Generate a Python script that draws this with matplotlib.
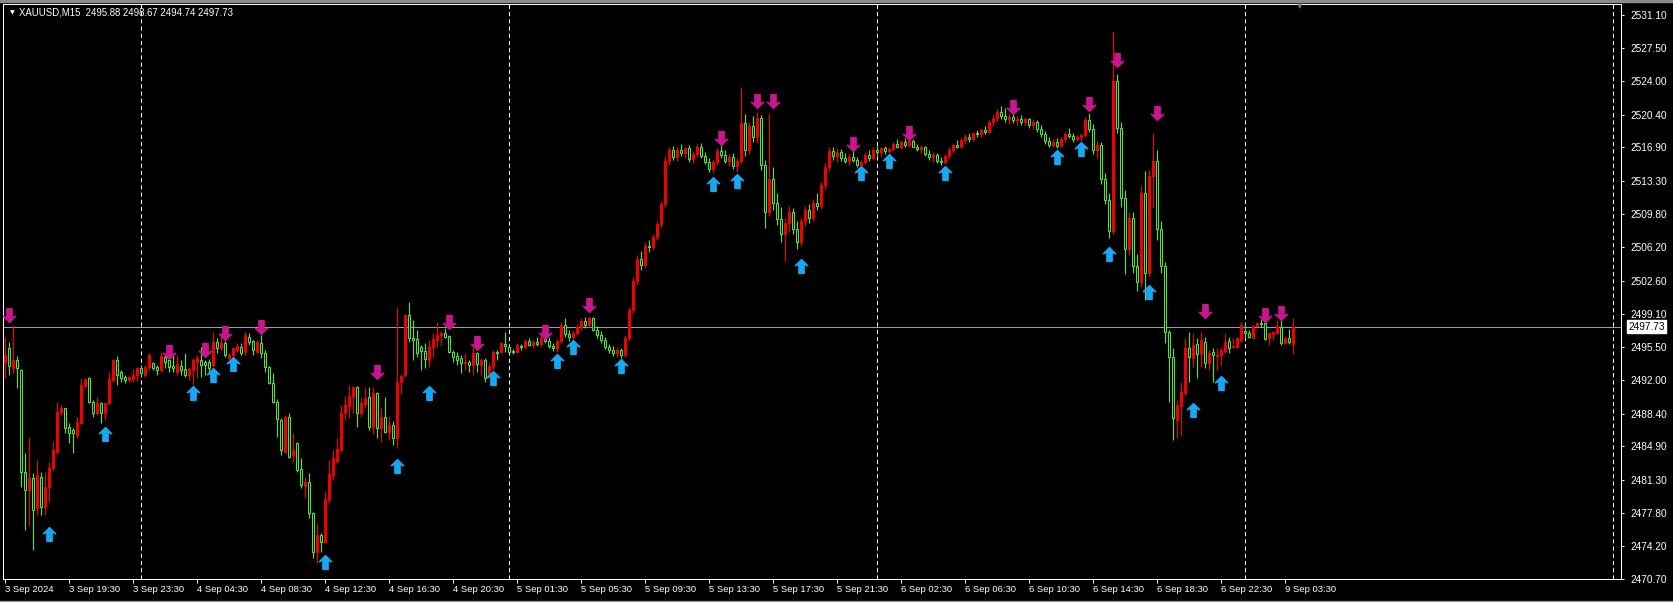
#!/usr/bin/env python3
"""XAUUSD M15 candles (MT4 style) with signal arrows -> out.png"""
import matplotlib
matplotlib.use("Agg")
import matplotlib.pyplot as plt
import numpy as np
from matplotlib.path import Path
from matplotlib.transforms import blended_transform_factory

plt.rcParams["lines.scale_dashes"] = False

# ---------------------------------------------------------------------------
# data (bar 0 = 3 Sep 15:30)
# ---------------------------------------------------------------------------
opens = [
    2493.90, 2495.39, 2493.25, 2494.15, 2493.07, 2482.19, 2480.23, 2481.48, 2478.27, 2481.65,
    2478.44, 2480.58, 2482.55, 2484.33, 2488.61, 2488.97, 2487.00, 2486.65, 2486.12, 2487.36,
    2491.36, 2492.18, 2489.68, 2488.43, 2489.58, 2488.43, 2489.51, 2492.01, 2494.15, 2492.90,
    2492.29, 2492.00, 2492.08, 2492.54, 2493.25, 2492.54, 2493.36, 2493.79, 2493.43, 2493.07,
    2494.50, 2494.15, 2493.50, 2492.90, 2493.50, 2493.15, 2492.54, 2493.07, 2493.97, 2494.15,
    2493.97, 2493.97, 2493.61, 2496.11, 2495.39, 2495.93, 2494.32, 2494.68, 2495.22, 2495.57,
    2495.04, 2496.64, 2496.22, 2495.04, 2495.93, 2494.93, 2493.36, 2491.72, 2489.68, 2487.72,
    2484.33, 2488.00, 2483.97, 2485.22, 2482.44, 2480.65, 2481.12, 2477.73, 2473.62, 2475.41,
    2474.70, 2479.16, 2481.83, 2483.37, 2484.51, 2488.43, 2489.22, 2490.22, 2491.22, 2488.43,
    2489.43, 2490.15, 2487.01, 2490.58, 2486.83, 2488.01, 2486.47, 2487.20, 2485.80, 2491.80,
    2492.50, 2498.96, 2496.50, 2496.36, 2495.50, 2495.10, 2494.15, 2495.57, 2496.29, 2496.82,
    2497.07, 2496.71, 2495.04, 2494.57, 2494.32, 2493.79, 2493.97, 2493.61, 2494.93, 2493.61,
    2494.15, 2492.54, 2493.50, 2495.04, 2495.04, 2495.86, 2495.50, 2495.10, 2495.04, 2495.64,
    2495.57, 2496.20, 2495.80, 2496.10, 2495.90, 2496.50, 2496.20, 2495.60, 2495.40, 2496.20,
    2497.90, 2496.90, 2496.60, 2497.00, 2497.70, 2498.30, 2497.90, 2498.60, 2497.40, 2496.80,
    2496.30, 2495.50, 2495.20, 2494.90, 2495.20, 2494.70, 2496.50, 2499.50, 2502.60, 2505.00,
    2504.30, 2506.40, 2506.20, 2507.30, 2508.70, 2510.80, 2515.50, 2516.60, 2515.90, 2516.60,
    2516.30, 2516.80, 2515.70, 2516.20, 2517.00, 2516.00, 2515.40, 2514.60, 2515.30, 2516.50,
    2516.10, 2515.50, 2515.90, 2514.90, 2515.50, 2519.50, 2516.60, 2519.20, 2518.00, 2520.10,
    2515.00, 2510.00, 2513.50, 2511.00, 2509.20, 2507.60, 2508.80, 2510.00, 2508.20, 2506.80,
    2509.00, 2510.20, 2509.30, 2511.00, 2510.60, 2512.90, 2514.80, 2516.50, 2516.00, 2516.40,
    2515.80, 2515.50, 2515.90, 2515.60, 2515.00, 2515.30, 2516.10, 2515.80, 2516.60, 2516.40,
    2516.80, 2516.50, 2516.70, 2517.30, 2517.00, 2517.50, 2517.20, 2517.60, 2517.00, 2516.70,
    2516.90, 2516.20, 2515.90, 2516.10, 2515.50, 2515.30, 2516.00, 2516.60, 2517.20, 2517.00,
    2517.70, 2518.00, 2517.80, 2518.40, 2518.30, 2518.80, 2518.60, 2519.60, 2520.10, 2520.70,
    2520.30, 2519.90, 2520.20, 2519.80, 2520.00, 2519.60, 2519.90, 2519.30, 2519.60, 2518.90,
    2518.30, 2517.60, 2517.20, 2517.50, 2517.10, 2517.80, 2518.30, 2518.10, 2517.80, 2518.00,
    2518.20, 2519.80, 2518.90, 2516.60, 2517.20, 2513.50, 2511.30, 2508.00, 2524.00, 2519.00,
    2511.50, 2506.00, 2509.40, 2504.20, 2502.50, 2512.00, 2503.50, 2513.80, 2515.50, 2508.20,
    2504.20, 2497.18, 2494.50, 2487.72, 2489.22, 2490.58, 2495.39, 2494.32, 2495.86, 2494.79,
    2496.11, 2493.79, 2495.04, 2494.57, 2494.68, 2495.14, 2496.18, 2495.50, 2495.57, 2496.29,
    2497.29, 2497.07, 2496.47, 2497.79, 2498.07, 2498.07, 2496.47, 2496.93, 2497.07, 2497.72,
    2496.00, 2496.47, 2495.88,
]
highs = [
    2496.64, 2496.11, 2497.89, 2494.57, 2493.15, 2484.15, 2485.94, 2482.01, 2483.44, 2482.19,
    2482.19, 2483.26, 2485.40, 2489.68, 2489.33, 2489.00, 2487.36, 2486.83, 2488.08, 2492.18,
    2492.25, 2492.36, 2489.86, 2490.22, 2489.68, 2489.58, 2492.90, 2494.22, 2494.57, 2493.07,
    2492.54, 2492.43, 2493.15, 2493.40, 2493.61, 2493.61, 2494.86, 2493.97, 2493.61, 2495.04,
    2494.68, 2494.50, 2494.68, 2494.68, 2494.15, 2494.86, 2493.43, 2494.32, 2494.68, 2495.57,
    2494.15, 2494.30, 2497.18, 2496.47, 2497.00, 2496.29, 2494.90, 2495.57, 2495.93, 2495.93,
    2497.18, 2497.00, 2496.29, 2496.29, 2496.82, 2495.22, 2493.50, 2492.72, 2489.93, 2487.90,
    2488.26, 2488.43, 2486.37, 2485.40, 2483.62, 2481.65, 2482.08, 2477.91, 2476.66, 2475.66,
    2480.05, 2483.44, 2484.51, 2485.76, 2489.33, 2490.29, 2491.47, 2491.29, 2491.36, 2490.22,
    2491.29, 2491.29, 2491.29, 2490.76, 2489.15, 2490.22, 2488.20, 2487.60, 2499.80, 2492.60,
    2499.00, 2500.39, 2498.40, 2497.36, 2495.75, 2495.93, 2496.29, 2497.00, 2498.18, 2497.29,
    2497.54, 2496.82, 2495.22, 2495.04, 2494.68, 2494.86, 2494.15, 2495.57, 2495.04, 2494.32,
    2494.32, 2493.79, 2495.22, 2495.22, 2496.11, 2497.18, 2495.75, 2495.30, 2495.93, 2495.90,
    2496.40, 2496.50, 2496.30, 2496.60, 2496.80, 2497.20, 2496.60, 2496.00, 2496.40, 2498.20,
    2498.60, 2497.40, 2497.30, 2498.00, 2498.60, 2498.80, 2498.90, 2498.80, 2497.80, 2497.20,
    2496.60, 2495.90, 2495.60, 2495.50, 2495.40, 2496.80, 2499.80, 2503.00, 2505.40, 2505.80,
    2506.80, 2507.00, 2507.60, 2509.00, 2511.20, 2516.00, 2517.00, 2517.10, 2516.90, 2517.30,
    2517.00, 2517.20, 2516.50, 2517.30, 2517.40, 2516.40, 2515.80, 2515.60, 2516.80, 2517.30,
    2516.60, 2516.20, 2516.30, 2515.80, 2523.40, 2520.50, 2519.60, 2520.30, 2520.70, 2520.40,
    2515.60, 2520.60, 2514.80, 2512.00, 2510.50, 2509.40, 2510.60, 2510.40, 2509.00, 2509.40,
    2510.60, 2510.80, 2511.40, 2512.00, 2513.20, 2515.20, 2516.90, 2517.00, 2516.80, 2516.70,
    2516.30, 2516.20, 2516.60, 2515.90, 2515.60, 2516.40, 2516.60, 2516.90, 2517.20, 2517.00,
    2517.10, 2516.90, 2517.50, 2517.80, 2517.70, 2517.90, 2517.80, 2517.80, 2517.30, 2517.20,
    2517.10, 2516.60, 2516.40, 2516.30, 2515.90, 2516.20, 2516.90, 2517.40, 2517.70, 2517.90,
    2518.30, 2518.40, 2518.60, 2518.80, 2519.00, 2519.20, 2519.80, 2520.40, 2521.00, 2521.30,
    2521.10, 2520.50, 2520.60, 2520.30, 2520.40, 2520.20, 2520.10, 2519.90, 2519.80, 2519.30,
    2518.70, 2518.00, 2517.80, 2517.90, 2518.00, 2518.60, 2519.00, 2518.50, 2518.20, 2518.40,
    2520.20, 2520.60, 2519.40, 2517.60, 2517.50, 2514.20, 2512.00, 2529.40, 2524.80, 2519.60,
    2512.40, 2510.00, 2510.00, 2505.50, 2512.80, 2514.40, 2514.50, 2518.40, 2516.60, 2509.00,
    2504.60, 2497.35, 2495.40, 2489.86, 2491.82, 2496.47, 2497.18, 2497.00, 2496.47, 2497.18,
    2496.64, 2495.22, 2495.39, 2495.39, 2495.57, 2497.00, 2496.57, 2496.47, 2496.64, 2498.25,
    2498.25, 2497.36, 2497.89, 2498.25, 2498.50, 2498.25, 2497.18, 2497.29, 2498.43, 2498.43,
    2496.64, 2497.43, 2498.67,
]
lows = [
    2492.18, 2492.54, 2492.72, 2491.11, 2480.58, 2475.94, 2476.48, 2473.80, 2477.55, 2477.55,
    2477.55, 2478.98, 2482.37, 2484.15, 2488.26, 2486.29, 2485.22, 2484.22, 2485.76, 2487.36,
    2491.29, 2489.51, 2488.08, 2488.26, 2487.36, 2487.72, 2489.33, 2491.83, 2491.47, 2491.83,
    2491.65, 2491.83, 2491.83, 2491.90, 2492.36, 2492.36, 2493.07, 2493.07, 2492.54, 2492.90,
    2493.25, 2492.90, 2492.90, 2492.54, 2492.54, 2492.36, 2492.00, 2491.47, 2492.18, 2492.36,
    2492.54, 2492.90, 2493.43, 2494.86, 2495.22, 2494.50, 2493.90, 2494.50, 2495.04, 2494.68,
    2494.68, 2495.75, 2494.68, 2494.86, 2494.32, 2492.90, 2491.58, 2489.51, 2485.94, 2483.97,
    2484.15, 2483.62, 2483.26, 2482.19, 2480.40, 2479.33, 2477.19, 2472.91, 2472.38, 2473.62,
    2474.52, 2478.80, 2481.30, 2483.08, 2484.33, 2487.72, 2487.90, 2488.43, 2486.94, 2488.08,
    2489.15, 2486.65, 2486.22, 2485.76, 2485.40, 2486.29, 2485.60, 2485.00, 2484.70, 2490.50,
    2492.30, 2496.10, 2494.15, 2494.50, 2493.07, 2493.25, 2493.43, 2494.50, 2495.57, 2495.75,
    2496.47, 2494.86, 2493.97, 2493.61, 2492.72, 2493.07, 2492.90, 2492.54, 2492.90, 2492.54,
    2491.83, 2492.43, 2493.07, 2494.15, 2494.86, 2495.04, 2494.86, 2494.80, 2494.86, 2495.20,
    2495.30, 2495.60, 2495.40, 2495.70, 2495.60, 2496.00, 2495.40, 2495.10, 2495.00, 2496.00,
    2496.60, 2496.20, 2496.40, 2496.80, 2497.30, 2497.60, 2497.70, 2497.20, 2496.50, 2496.00,
    2495.30, 2494.90, 2494.60, 2494.50, 2494.40, 2494.50, 2496.30, 2499.20, 2502.20, 2503.80,
    2504.00, 2505.70, 2505.90, 2507.00, 2508.40, 2510.50, 2515.00, 2515.60, 2515.50, 2516.00,
    2515.80, 2515.40, 2515.20, 2515.90, 2515.80, 2515.10, 2514.30, 2514.20, 2515.00, 2515.80,
    2515.20, 2514.90, 2514.60, 2514.30, 2515.20, 2516.00, 2516.20, 2517.50, 2517.40, 2514.50,
    2508.30, 2509.60, 2510.20, 2508.60, 2506.80, 2504.70, 2507.80, 2507.60, 2506.00, 2506.30,
    2508.50, 2508.80, 2509.00, 2510.20, 2510.30, 2512.50, 2514.40, 2515.60, 2515.40, 2515.50,
    2515.20, 2515.00, 2515.30, 2514.80, 2515.10, 2515.10, 2515.50, 2515.60, 2516.00, 2515.90,
    2516.20, 2516.30, 2516.50, 2516.80, 2516.70, 2517.00, 2516.90, 2516.90, 2516.50, 2516.30,
    2516.00, 2515.60, 2515.40, 2515.20, 2515.00, 2515.10, 2515.70, 2516.30, 2516.80, 2516.80,
    2517.40, 2517.50, 2517.60, 2518.00, 2518.00, 2518.30, 2518.40, 2519.20, 2519.70, 2520.00,
    2519.60, 2519.40, 2519.50, 2519.30, 2519.30, 2519.20, 2519.00, 2518.90, 2518.60, 2518.00,
    2517.30, 2516.90, 2516.90, 2516.80, 2516.90, 2517.50, 2517.90, 2517.50, 2517.60, 2517.60,
    2518.00, 2518.60, 2516.20, 2515.80, 2513.00, 2510.80, 2507.20, 2507.60, 2518.50, 2510.50,
    2503.40, 2505.40, 2503.50, 2501.50, 2502.00, 2500.60, 2503.00, 2510.50, 2507.00, 2503.50,
    2495.93, 2489.70, 2485.58, 2485.76, 2486.12, 2490.40, 2491.82, 2493.43, 2492.18, 2493.43,
    2493.25, 2493.07, 2491.82, 2493.07, 2493.61, 2494.86, 2494.86, 2495.39, 2495.39, 2496.11,
    2496.47, 2496.47, 2496.36, 2497.72, 2497.72, 2496.29, 2495.75, 2496.29, 2496.93, 2495.75,
    2495.93, 2495.86, 2494.74,
]
closes = [
    2494.70, 2493.50, 2494.15, 2493.25, 2482.19, 2480.23, 2481.48, 2478.09, 2481.83, 2478.44,
    2480.58, 2482.55, 2484.51, 2488.61, 2488.97, 2486.83, 2486.29, 2486.37, 2487.54, 2491.47,
    2492.08, 2489.68, 2488.43, 2489.51, 2488.43, 2489.51, 2492.08, 2494.15, 2492.54, 2492.18,
    2492.00, 2492.29, 2492.54, 2493.25, 2492.72, 2493.36, 2494.68, 2493.25, 2493.07, 2494.57,
    2493.97, 2493.43, 2493.25, 2493.72, 2493.07, 2492.54, 2493.15, 2494.15, 2494.32, 2493.61,
    2493.61, 2493.25, 2496.11, 2495.39, 2495.93, 2494.68, 2494.68, 2495.39, 2495.64, 2494.86,
    2496.82, 2496.11, 2495.22, 2496.11, 2494.93, 2493.36, 2491.72, 2489.68, 2487.79, 2484.51,
    2488.08, 2483.79, 2484.51, 2482.37, 2480.76, 2481.12, 2477.73, 2473.62, 2475.41, 2474.70,
    2479.23, 2481.94, 2483.62, 2484.58, 2488.51, 2489.33, 2490.29, 2491.22, 2488.43, 2489.51,
    2490.04, 2487.01, 2490.58, 2486.83, 2488.01, 2486.47, 2487.20, 2485.80, 2491.80, 2492.40,
    2498.96, 2496.50, 2496.30, 2494.86, 2495.14, 2494.30, 2495.57, 2496.36, 2496.82, 2497.00,
    2496.64, 2495.04, 2494.50, 2494.15, 2493.79, 2493.97, 2493.61, 2494.86, 2493.72, 2494.15,
    2492.18, 2493.50, 2495.04, 2494.86, 2495.93, 2495.64, 2495.04, 2495.04, 2495.75, 2495.50,
    2496.20, 2495.80, 2496.10, 2495.90, 2496.50, 2496.20, 2495.60, 2495.40, 2496.20, 2497.90,
    2496.90, 2496.60, 2497.00, 2497.70, 2498.30, 2497.90, 2498.60, 2497.40, 2496.80, 2496.30,
    2495.50, 2495.20, 2494.90, 2495.20, 2494.70, 2496.50, 2499.50, 2502.60, 2505.00, 2504.30,
    2506.40, 2506.20, 2507.30, 2508.70, 2510.80, 2515.50, 2516.60, 2515.90, 2516.60, 2516.30,
    2516.80, 2515.70, 2516.20, 2517.00, 2516.00, 2515.40, 2514.60, 2515.30, 2516.50, 2516.10,
    2515.50, 2515.90, 2514.90, 2515.50, 2519.50, 2516.60, 2519.20, 2518.00, 2520.10, 2515.00,
    2510.00, 2513.50, 2511.00, 2509.20, 2507.60, 2508.80, 2510.00, 2508.20, 2506.80, 2509.00,
    2510.20, 2509.30, 2511.00, 2510.60, 2512.90, 2514.80, 2516.50, 2516.00, 2516.40, 2515.80,
    2515.50, 2515.90, 2515.60, 2515.00, 2515.30, 2516.10, 2515.80, 2516.60, 2516.40, 2516.80,
    2516.50, 2516.70, 2517.30, 2517.00, 2517.50, 2517.20, 2517.60, 2517.00, 2516.70, 2516.90,
    2516.20, 2515.90, 2516.10, 2515.50, 2515.30, 2516.00, 2516.60, 2517.20, 2517.00, 2517.70,
    2518.00, 2517.80, 2518.40, 2518.30, 2518.80, 2518.60, 2519.60, 2520.10, 2520.70, 2520.30,
    2519.90, 2520.20, 2519.80, 2520.00, 2519.60, 2519.90, 2519.30, 2519.60, 2518.90, 2518.30,
    2517.60, 2517.20, 2517.50, 2517.10, 2517.80, 2518.30, 2518.10, 2517.80, 2518.00, 2518.20,
    2519.80, 2518.90, 2516.60, 2517.20, 2513.50, 2511.30, 2508.00, 2524.00, 2519.00, 2511.50,
    2506.00, 2509.40, 2504.20, 2502.50, 2512.00, 2503.50, 2513.80, 2515.50, 2508.20, 2504.20,
    2497.18, 2494.50, 2487.90, 2489.33, 2490.75, 2495.39, 2494.43, 2495.75, 2494.79, 2496.29,
    2493.79, 2494.93, 2494.68, 2494.68, 2495.22, 2496.11, 2495.39, 2495.64, 2496.47, 2497.89,
    2497.00, 2496.57, 2497.79, 2498.14, 2498.00, 2496.36, 2497.07, 2497.18, 2497.79, 2496.00,
    2496.47, 2496.11, 2497.73,
]

# signal arrows: bar index and price of the arrow centre
sell_bars = [1, 41, 50, 55, 64, 93, 111, 118, 135, 146, 179, 188, 192, 212, 226, 252, 271, 278,
             288, 300, 315, 319]
sell_prices = [2499.00, 2495.04, 2495.22, 2497.07, 2497.71, 2492.90, 2498.25, 2495.93, 2497.15,
               2500.00, 2517.95, 2521.83, 2521.83, 2517.26, 2518.40, 2521.26, 2521.60, 2526.29,
               2520.58, 2499.43, 2498.96, 2499.14]
buy_bars = [11, 25, 47, 52, 57, 80, 98, 106, 122, 138, 142, 154, 177, 183, 199, 214, 221, 235,
            263, 269, 276, 286, 297, 304]
buy_prices = [2475.52, 2486.22, 2490.58, 2492.54, 2493.72, 2472.55, 2482.75, 2490.65, 2492.18,
              2494.06, 2495.55, 2493.49, 2513.03, 2513.26, 2504.24, 2514.18, 2515.43, 2514.18,
              2515.89, 2516.69, 2505.49, 2501.46, 2488.79, 2491.65]

day_breaks = [34, 126, 218, 310, 402]
time_ticks = list(range(0, 321, 16))
time_labels = [
    "3 Sep 2024", "3 Sep 19:30", "3 Sep 23:30", "4 Sep 04:30", "4 Sep 08:30", "4 Sep 12:30",
    "4 Sep 16:30", "4 Sep 20:30", "5 Sep 01:30", "5 Sep 05:30", "5 Sep 09:30", "5 Sep 13:30",
    "5 Sep 17:30", "5 Sep 21:30", "6 Sep 02:30", "6 Sep 06:30", "6 Sep 10:30", "6 Sep 14:30",
    "6 Sep 18:30", "6 Sep 22:30", "9 Sep 03:30",
]
price_ticks = [2531.10, 2527.50, 2524.00, 2520.40, 2516.90, 2513.30, 2509.80, 2506.20, 2502.60,
               2499.10, 2495.50, 2492.00, 2488.40, 2484.90, 2481.30, 2477.80, 2474.20, 2470.70]
bid = 2497.73
title = "XAUUSD,M15  2495.88 2498.67 2494.74 2497.73"

# colours
BULL = "#F00000"
BEAR = "#58E03C"
BUY = "#18A8F2"
SELL = "#C8168C"
FG = "white"

W, H = 1674, 602
# plot frame in pixels
LEFT, RIGHT, TOP, BOTTOM = 3, 1621, 4, 579
PX_PER_USD = 9.34
Y0 = 2470.7


def arrow_path(up=True):
    v = [(0, 1), (0.9, 0.1), (0.38, 0.3), (0.38, -1), (-0.38, -1), (-0.38, 0.3),
         (-0.9, 0.1), (0, 1)]
    if not up:
        v = [(x, -y) for x, y in v]
    return Path(v, closed=True)


fig = plt.figure(figsize=(W / 100, H / 100), dpi=100, facecolor="black")
ax = fig.add_axes([LEFT / W, 1 - BOTTOM / H, (RIGHT - LEFT) / W, (BOTTOM - TOP) / H])
ax.set_facecolor("black")

o = np.array(opens)
h = np.array(highs)
l = np.array(lows)
c = np.array(closes)
x = np.arange(len(o))
up = c >= o

# wicks (split around body so the hollow candles stay hollow)
top = np.maximum(o, c)
bot = np.minimum(o, c)
wcol = np.where(up, BULL, BEAR)
ax.vlines(x, top, h, colors=wcol, linewidth=0.85, zorder=2)
ax.vlines(x, l, bot, colors=wcol, linewidth=0.85, zorder=2)

body = np.maximum(top - bot, 0.03)
ax.bar(x[up], body[up], bottom=bot[up], width=0.58, color=BULL, edgecolor=BULL,
       linewidth=0.75, zorder=3)
ax.bar(x[~up], body[~up], bottom=bot[~up], width=0.58, color="black", edgecolor=BEAR,
       linewidth=0.75, zorder=3)

# arrows
ax.plot(buy_bars, buy_prices, linestyle="none", marker=arrow_path(True), markersize=10,
        color=BUY, zorder=4)
ax.plot(sell_bars, sell_prices, linestyle="none", marker=arrow_path(False), markersize=10,
        color=SELL, zorder=4)

# period separators + bid line
for b in day_breaks:
    ax.axvline(b, color=FG, linewidth=0.72, dashes=(3, 2.2), zorder=1)
ax.axhline(bid, color="#9C9CA8", linewidth=0.72, zorder=1)

ax.set_xlim(-0.5, (RIGHT - 5) / 4)
ax.set_ylim(Y0, Y0 + (BOTTOM - TOP) / PX_PER_USD)

for sp in ax.spines.values():
    sp.set_color(FG)
    sp.set_linewidth(0.72)

ax.set_xticks(time_ticks)
ax.set_xticklabels(time_labels, ha="left", family="Liberation Sans")
ax.tick_params(axis="x", colors=FG, labelsize=6.8, length=3, width=0.7, pad=1.5)

ax.yaxis.tick_right()
ax.set_yticks(price_ticks)
ax.set_yticklabels([f"{p:.2f}" for p in price_ticks], family="Liberation Sans")
ax.tick_params(axis="y", colors=FG, labelsize=7.3, length=2.5, width=0.7, pad=4)

# current price tag
tr = blended_transform_factory(ax.transAxes, ax.transData)
ax.text(1 + 7 / (RIGHT - LEFT), bid, f"{bid:.2f}", transform=tr, ha="left", va="center",
        fontsize=7.3, family="Liberation Sans", color="black",
        bbox=dict(boxstyle="square,pad=0.12", facecolor="white", edgecolor="white"),
        zorder=6, clip_on=False)

# header
fig.text(19 / W, 1 - 12.5 / H, title, color=FG, fontsize=6.9, family="Liberation Sans",
         va="center", ha="left")
fig.text(12.5 / W, 1 - 12.5 / H, "\u25bc", color=FG, fontsize=4.5, family="DejaVu Sans",
         va="center", ha="center")
# chart shift marker
fig.text(1300 / W, 1 - 6 / H, "\u25bc", color="#808080", fontsize=5, family="DejaVu Sans",
         va="center", ha="center")

# window edges
fig.add_artist(plt.Rectangle((0, 1 - 1.5 / H), 1, 1.5 / H, transform=fig.transFigure,
                             color="#8A8A8A", zorder=0))
fig.add_artist(plt.Rectangle((0, 0), 1, 1.5 / H, transform=fig.transFigure,
                             color="#8A8A8A", zorder=0))

fig.savefig("out.png", dpi=100, facecolor="black")
